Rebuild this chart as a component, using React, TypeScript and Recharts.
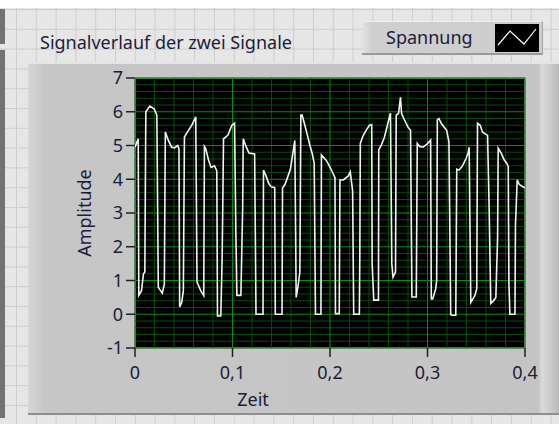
import React from "react";
import {
  LineChart,
  Line,
  XAxis,
  YAxis,
  CartesianGrid,
  ReferenceLine,
  ReferenceArea,
  Legend,
  Label,
} from "recharts";

// Abtastzeitpunkte (ms) und Amplitudenwerte
const timeMs = [
  0, 3.3, 3.9, 6.7, 8.7, 10.1, 11.1, 15.2, 19.8, 22.4, 23.9, 28.0, 30.1,
  31.1, 34.2, 37.6, 40.4, 43.8, 45.1, 45.8, 47.9, 49.6, 50.7, 54.8, 58.2,
  62.3, 63.6, 67.4, 70.5, 71.2, 72.6, 75.4, 78.0, 81.5, 83.9, 84.6, 88.0,
  89.4, 90.8, 95.2, 99.4, 102.1, 103.5, 104.5, 108.6, 110.4, 111.0, 114.1,
  116.9, 122.7, 124.1, 131.3, 131.8, 134.4, 137.1, 139.5, 143.3, 143.9,
  150.8, 151.3, 153.9, 157.0, 159.4, 161.4, 163.9, 165.3, 167.3, 169.1,
  170.1, 171.4, 174.2, 176.9, 179.4, 181.7, 183.8, 185.1, 190.7, 191.2,
  196.4, 201.0, 205.1, 205.6, 209.5, 210.2, 213.6, 218.8, 220.8, 223.2,
  224.3, 230.1, 230.6, 231.1, 233.5, 237.0, 240.5, 242.8, 243.2, 244.9,
  249.7, 250.0, 252.5, 255.9, 259.3, 262.0, 263.4, 264.6, 267.2, 267.9,
  270.3, 272.3, 273.4, 275.7, 279.8, 282.6, 284.0, 288.5, 289.5, 292.0,
  295.3, 299.8, 303.2, 303.9, 305.3, 308.4, 309.4, 310.1, 311.7, 314.2,
  316.9, 319.7, 322.0, 323.8, 324.5, 329.0, 330.0, 332.4, 335.9, 339.3,
  341.6, 342.7, 344.4, 348.5, 350.5, 351.3, 354.0, 356.4, 358.8, 361.6,
  363.2, 364.9, 367.8, 370.1, 371.9, 372.5, 376.0, 378.7, 381.5, 382.8,
  383.5, 384.5, 389.7, 390.2, 392.0, 394.1, 397.6, 400.0,
];

const amplitude = [
  4.95, 5.2, 0.56, 0.7, 1.2, 1.25, 6.0, 6.17, 6.08, 5.9, 0.8, 0.62, 0.9,
  5.4, 5.15, 4.95, 4.93, 5.0, 4.9, 0.22, 0.35, 0.7, 5.25, 5.45, 5.6,
  5.85, 0.95, 0.7, 0.55, 4.97, 4.9, 4.57, 4.35, 4.4, 4.25, -0.05, -0.05,
  1.7, 5.2, 5.3, 5.6, 5.66, 2.35, 0.56, 0.56, 3.08, 5.2, 4.95,
  4.78, 4.75, 0.0, 0.0, 4.27, 4.1, 3.88, 3.78, 3.75, 0.0,
  0.0, 3.74, 3.85, 4.1, 4.3, 4.67, 5.15, 0.5, 0.85, 1.25,
  5.9, 5.9, 5.6, 5.3, 5.0, 4.77, 4.47, 0.0, 0.0, 4.72,
  4.55, 4.3, 4.05, 0.02, 0.02, 3.98, 3.98, 4.1, 4.22, 3.65,
  0.0, 0.0, 1.8, 5.06, 5.26, 5.45, 5.6, 5.62, 1.5, 0.42,
  0.42, 4.87, 5.0, 5.25, 5.65, 5.96, 1.5, 1.1, 1.25, 5.9,
  5.95, 6.43, 5.95, 5.8, 5.55, 5.45, 0.51, 0.51, 5.06, 4.97,
  4.95, 5.05, 5.16, 0.45, 0.45, 0.75, 1.0, 5.76, 5.8, 5.65,
  5.55, 5.45, 5.1, 0.0, -0.03, -0.03, 4.3, 4.27, 4.4, 4.6,
  4.77, 4.95, 0.35, 0.55, 0.75, 5.66, 5.6, 5.4, 5.35, 5.3,
  3.2, 0.32, 0.4, 0.5, 2.3, 4.92, 4.75, 4.57, 4.47, 4.37,
  0.9, 0.0, 0.0, 2.6, 3.98, 3.85, 3.78, 3.75,
];

const xTicks = [0, 0.1, 0.2, 0.3, 0.4];
const yTicks = [-1, 0, 1, 2, 3, 4, 5, 6, 7];

// Hilfsgitter: 0,02 s und 0,2 Amplitude
const minorX = Array.from({ length: 21 }, (_, i) => +(i * 0.02).toFixed(2)).filter(
  (v) => !xTicks.includes(v)
);
const minorY = Array.from({ length: 41 }, (_, i) => +(-1 + i * 0.2).toFixed(1)).filter(
  (v) => !yTicks.includes(v)
);

const data = timeMs.map((t, i) => ({ t: t / 1000, v: amplitude[i] }));

const FONT = "'Noto Sans', 'Open Sans', sans-serif";
const TEXT = "#1c1c3c";
const MAJOR = "#0c8c0c";
const MINOR = "#0a4a0a";

function SpannungLegend() {
  return (
    <div
      style={{
        width: 181,
        height: 34,
        boxSizing: "border-box",
        background: "linear-gradient(to right, #e2e2e2 0px, #cfcfcf 10px, #cdcdcd 100%)",
        borderTop: "1px solid #eeeeee",
        borderBottom: "2px solid #9a9a9a",
        borderRight: "1px solid #a8a8a8",
        position: "relative",
        fontFamily: FONT,
      }}
    >
      <span
        style={{
          position: "absolute",
          left: 24,
          top: 4,
          fontSize: 18,
          color: TEXT,
          lineHeight: "22px",
        }}
      >
        Spannung
      </span>
      <svg
        width={44}
        height={28}
        style={{ position: "absolute", left: 133, top: 2, background: "#000" }}
      >
        <polyline
          points="3,21 15,7 29,20 41,5"
          fill="none"
          stroke="#ffffff"
          strokeWidth={1.2}
        />
      </svg>
    </div>
  );
}

export default function App() {
  return (
    <div
      style={{
        position: "absolute",
        left: 0,
        top: 0,
        width: 559,
        height: 424,
        overflow: "hidden",
        backgroundColor: "#e6e6e6",
        backgroundImage:
          "linear-gradient(to right, #cdcdcd 1px, transparent 1px), linear-gradient(to bottom, #cdcdcd 1px, transparent 1px)",
        backgroundSize: "19.8px 19.8px",
        backgroundPosition: "16px 9px",
      }}
    >
      {/* weißer Rand oben */}
      <div style={{ position: "absolute", left: 0, top: 0, width: 559, height: 8, background: "#fff" }} />
      {/* dunkle Leiste links */}
      <div style={{ position: "absolute", left: 0, top: 9, width: 5, height: 35, background: "#727272" }} />
      <div style={{ position: "absolute", left: 0, top: 50, width: 5, height: 368, background: "#727272" }} />

      {/* Rahmen des Graphen */}
      <div
        style={{
          position: "absolute",
          left: 28,
          top: 62,
          width: 540,
          height: 353,
          boxSizing: "border-box",
          background:
            "linear-gradient(to right, #d6d6d6 0px, #c6c6c6 16px, #c4c4c4 510px, #dadada 514px, #d0d0d0 520px, #b8b8b8 531px)",
          borderTop: "2px solid #e4e4e4",
          borderBottom: "2px solid #8e8e8e",
        }}
      />

      <div
        style={{
          position: "absolute",
          left: 40,
          top: 30,
          fontFamily: FONT,
          fontSize: 18,
          color: TEXT,
          whiteSpace: "nowrap",
        }}
      >
        Signalverlauf der zwei Signale
      </div>

      <div style={{ position: "absolute", left: 0, top: 0 }}>
        <LineChart
          width={559}
          height={424}
          data={data}
          margin={{ top: 78, right: 34, left: 75, bottom: 46 }}
        >
          <CartesianGrid fill="#000000" horizontal={false} vertical={false} />
          {minorY.map((v) => (
            <ReferenceLine key={"my" + v} y={v} stroke={MINOR} strokeWidth={1} />
          ))}
          {minorX.map((v) => (
            <ReferenceLine key={"mx" + v} x={v} stroke={MINOR} strokeWidth={1} />
          ))}
          {yTicks.map((v) => (
            <ReferenceLine key={"y" + v} y={v} stroke={MAJOR} strokeWidth={1} />
          ))}
          {xTicks.map((v) => (
            <ReferenceLine key={"x" + v} x={v} stroke={MAJOR} strokeWidth={1} />
          ))}
          <ReferenceArea x1={0} x2={0.4} y1={-1} y2={7} fill="none" stroke="#8c8c8c" strokeWidth={1.5} />
          <XAxis
            type="number"
            dataKey="t"
            domain={[0, 0.4]}
            ticks={xTicks}
            allowDataOverflow
            height={30}
            axisLine={false}
            tickLine={{ stroke: "#202020", strokeWidth: 1.5 }}
            tickSize={9}
            tickMargin={9}
            tick={{ fill: TEXT, fontSize: 18, fontFamily: FONT }}
            tickFormatter={(v: number) => String(v).replace(".", ",")}
          >
            <Label
              content={({ viewBox }: any) => (
                <text
                  x={viewBox.x + 118}
                  y={viewBox.y + 58}
                  textAnchor="middle"
                  fill={TEXT}
                  fontSize={18}
                  fontFamily={FONT}
                >
                  Zeit
                </text>
              )}
            />
          </XAxis>
          <YAxis
            type="number"
            domain={[-1, 7]}
            ticks={yTicks}
            allowDataOverflow
            width={60}
            axisLine={false}
            tickLine={{ stroke: "#202020", strokeWidth: 1.5 }}
            tickSize={9}
            tickMargin={3}
            tick={{ fill: TEXT, fontSize: 18, fontFamily: FONT }}
          >
            <Label
              content={({ viewBox }: any) => {
                const cx = viewBox.x + 16;
                const cy = viewBox.y + viewBox.height / 2;
                return (
                  <text
                    x={cx}
                    y={cy}
                    transform={`rotate(-90 ${cx} ${cy})`}
                    textAnchor="middle"
                    fill={TEXT}
                    fontSize={18}
                    fontFamily={FONT}
                  >
                    Amplitude
                  </text>
                );
              }}
            />
          </YAxis>
          <Legend
            layout="horizontal"
            verticalAlign="middle"
            align="center"
            content={() => <SpannungLegend />}
            wrapperStyle={{ left: 362, top: 21, width: 181, height: 34 }}
          />
          <Line
            type="linear"
            dataKey="v"
            stroke="#f4f4f4"
            strokeWidth={1.6}
            dot={false}
            isAnimationActive={false}
          />
        </LineChart>
      </div>
    </div>
  );
}
